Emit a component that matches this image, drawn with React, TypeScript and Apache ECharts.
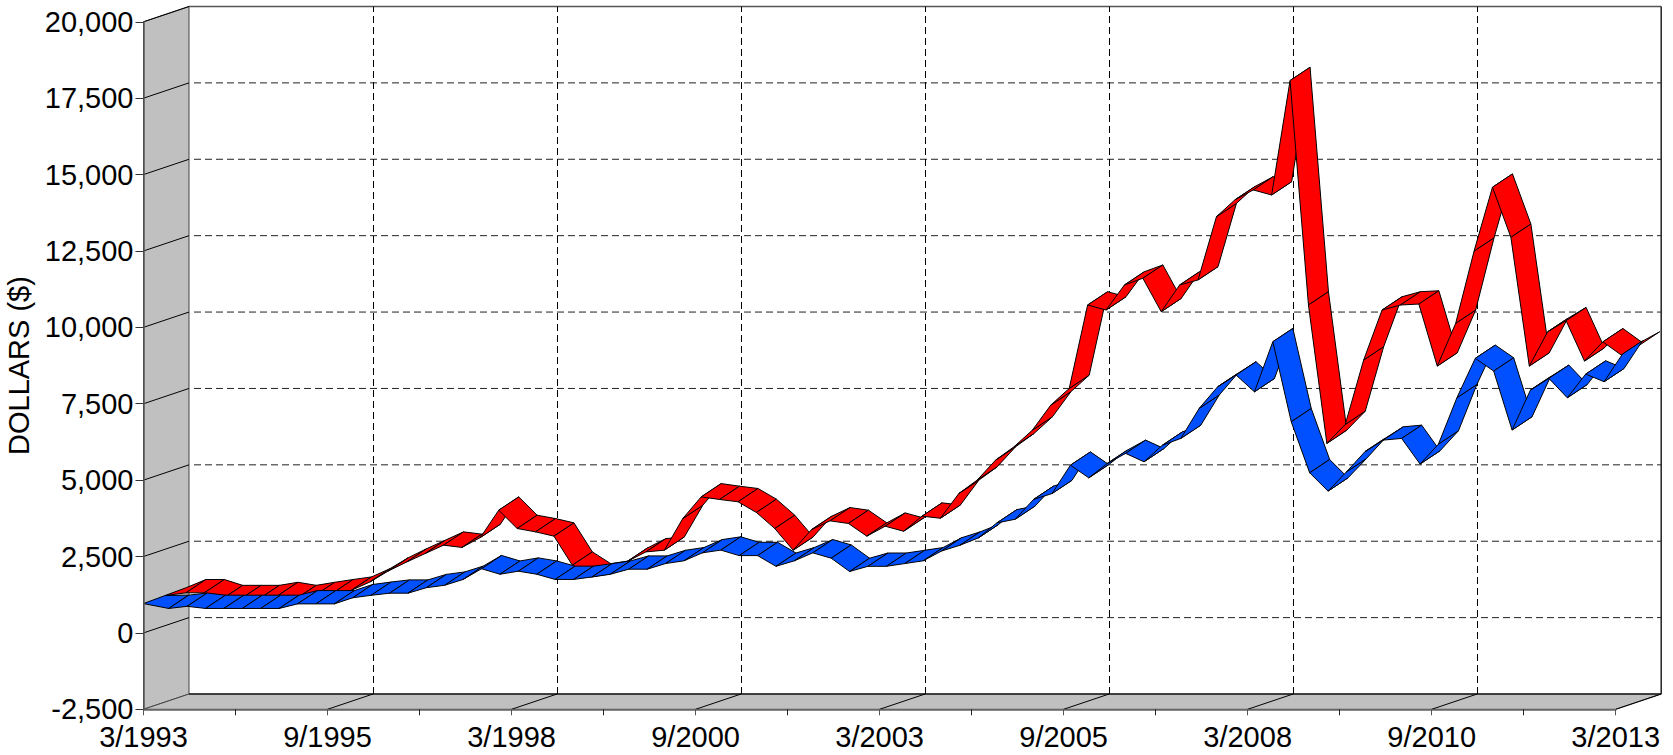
import React, { useEffect, useRef } from "react";
import * as echarts from "echarts";

const quarterLabels = ["3/1993", "9/1995", "3/1998", "9/2000", "3/2003", "9/2005", "3/2008", "9/2010", "3/2013"];
const yTicks = [-2500, 0, 2500, 5000, 7500, 10000, 12500, 15000, 17500, 20000];

const blueValues = [
  960, 800, 870, 800, 800, 800, 800, 800, 950, 950,
  950, 1150, 1230, 1300, 1300, 1480, 1560, 1750, 2100, 1920,
  2020, 1920, 1750, 1750, 1830, 1920, 2085, 2085, 2270, 2360,
  2620, 2710, 2530, 2530, 2180, 2360, 2620, 2445, 2010, 2180,
  2180, 2270, 2360, 2680, 2870, 3110, 3600, 3720, 4370, 4560,
  5490, 5075, 5545, 5875, 5600, 6145, 6365, 7350, 8055, 8440,
  7890, 9530, 6910, 5240, 4640, 5270, 5930, 6310, 6365, 5525,
  6180, 7695, 8985, 8570, 6640, 7950, 8330, 7695, 8470, 8220,
  9125,
];
const redValues = [
  960, 1050, 1050, 860, 860, 860, 960, 860, 960, 1050,
  1135, 1405, 1765, 2060, 2335, 2610, 2535, 2860, 3755, 3155,
  3045, 2905, 1955, 1570, 1660, 2085, 2390, 2445, 3480, 4190,
  4105, 4030, 3680, 3155, 2445, 3120, 3405, 3320, 2905, 3230,
  3065, 3560, 3490, 4300, 4740, 5395, 5830, 6375, 7195, 7740,
  10470, 10305, 11125, 11345, 10250, 11125, 11290, 13360, 13910, 14235,
  14070, 17815, 10470, 5940, 6560, 8670, 10305, 10470, 10500, 8470,
  9870, 12235, 14325, 12685, 8470, 9595, 9955, 8635, 9265, 8830,
  9160,
];

const FONT = "Liberation Sans";
const WALL = [45.5, -15.3];
const EDGE = "#444";

type Layer = { color: string; front: number[]; startFront: number[]; startBack: number[] };
const blueLayer: Layer = { color: "#0050ff", front: [6.8, 0], startFront: [0, 0], startBack: [21.5, -8] };
const redLayer: Layer = { color: "#ff0000", front: [24, -8], startFront: [21.5, -8], startBack: [43, -16] };
const SLANT = [20, -13.3];

const segments = (vals: number[]) => vals.slice(0, -1).map((v, i) => [i, v, vals[i + 1]]);

function ribbon(layer: Layer) {
  return (_params: any, api: any) => {
    const i = api.value(0);
    const edge = (idx: number, v: number) => {
      const p = api.coord([idx, v]);
      if (idx === 0) {
        return [
          [p[0] + layer.startFront[0], p[1] + layer.startFront[1]],
          [p[0] + layer.startBack[0], p[1] + layer.startBack[1]],
        ];
      }
      const f = [p[0] + layer.front[0], p[1] + layer.front[1]];
      return [f, [f[0] + SLANT[0], f[1] + SLANT[1]]];
    };
    const a = edge(i, api.value(1));
    const b = edge(i + 1, api.value(2));
    return {
      type: "polygon",
      shape: { points: [a[0], b[0], b[1], a[1]] },
      style: { fill: layer.color, stroke: "#000", lineWidth: 1, lineJoin: "round" },
    };
  };
}

function frame(_params: any, api: any) {
  const at = (x: number, y: number) => api.coord([x, y]);
  const back = (p: number[]) => [p[0] + WALL[0], p[1] + WALL[1]];
  const snap = (n: number) => Math.floor(n) + 0.5;
  const bl = at(0, -2500);
  const tl = at(0, 20000);
  const br = at(80, -2500);
  const line = (a: number[], b: number[], stroke: string, lineWidth = 1, dash?: number[]) => ({
    type: "line",
    shape: { x1: a[0], y1: a[1], x2: b[0], y2: b[1] },
    style: { stroke, lineWidth, lineDash: dash, fill: "none" },
  });
  const children: any[] = [
    {
      type: "polygon",
      shape: { points: [bl, tl, back(tl), back(bl)] },
      style: { fill: "#c0c0c0", stroke: EDGE, lineWidth: 1 },
    },
    {
      type: "polygon",
      shape: { points: [bl, back(bl), back(br), br] },
      style: { fill: "#c0c0c0", stroke: EDGE, lineWidth: 1 },
    },
    line(back(tl), [back(br)[0], back(tl)[1]], "#555", 1.5),
    line([back(br)[0], back(tl)[1]], back(br), "#222", 1.5),
    line(back(bl), back(br), "#222", 1.5),
  ];
  yTicks.forEach((v) => {
    const p = at(0, v);
    if (v > -2500 && v < 20000) {
      const q = back(p);
      children.push(line([q[0] + 5, q[1]], [back(br)[0], q[1]], "#222", 1, [7, 4]));
      children.push(line(p, q, "#000", 1));
    } else if (v === 20000) {
      children.push(line(p, back(p), "#000", 1));
    }
  });
  quarterLabels.forEach((_label, k) => {
    const p = at(k * 10, -2500);
    const q = back(p);
    if (k > 0 && k < quarterLabels.length - 1) {
      const x = snap(q[0]);
      children.push(line([x, q[1]], [x, back(tl)[1]], "#000", 1, [7, 4]));
    }
    if (k > 0) children.push(line(p, q, "#000", 1));
  });
  return { type: "group", children };
}

export default function App() {
  const ref = useRef<HTMLDivElement>(null);
  useEffect(() => {
    document.body.style.margin = "0";
    const chart = echarts.init(ref.current!, undefined, { renderer: "svg" });
    chart.setOption({
      animation: false,
      backgroundColor: "#fff",
      textStyle: { fontFamily: FONT },
      grid: { left: 143.5, top: 21.8, width: 1472.2, height: 687.5, containLabel: false, outerBoundsMode: "none" },
      xAxis: {
        type: "value",
        min: 0,
        max: 80,
        interval: 10,
        z: 5,
        splitLine: { show: false },
        axisLine: { show: true, onZero: false, lineStyle: { color: "#666", width: 1.5 } },
        axisTick: { show: true, length: 6, lineStyle: { color: "#555", width: 1 } },
        minorTick: { show: true, splitNumber: 2, length: 6, lineStyle: { color: "#222", width: 1 } },
        axisLabel: {
          margin: 13,
          color: "#000",
          fontFamily: FONT,
          fontSize: 29,
          showMinLabel: true,
          showMaxLabel: true,
          hideOverlap: false,
          formatter: (v: number) => quarterLabels[Math.round(v / 10)],
        },
      },
      yAxis: {
        type: "value",
        min: -2500,
        max: 20000,
        interval: 2500,
        z: 5,
        name: "DOLLARS ($)",
        nameLocation: "middle",
        nameRotate: 90,
        nameGap: 100,
        nameTextStyle: { color: "#000", fontFamily: FONT, fontSize: 29 },
        splitLine: { show: false },
        axisLine: { show: true, onZero: false, lineStyle: { color: "#555", width: 1.5 } },
        axisTick: { show: true, length: 8, lineStyle: { color: "#333", width: 1 } },
        axisLabel: {
          margin: 10,
          color: "#000",
          fontFamily: FONT,
          fontSize: 29,
          showMinLabel: true,
          showMaxLabel: true,
          formatter: (v: number) => v.toLocaleString("en-US"),
        },
      },
      series: [
        { type: "custom", name: "frame", z: 1, silent: true, clip: false, renderItem: frame, data: [[0, 0]] },
        {
          type: "custom",
          name: "Red",
          z: 2,
          silent: true,
          clip: false,
          renderItem: ribbon(redLayer),
          data: segments(redValues),
        },
        {
          type: "custom",
          name: "Blue",
          z: 3,
          silent: true,
          clip: false,
          renderItem: ribbon(blueLayer),
          data: segments(blueValues),
        },
      ],
    });
    return () => chart.dispose();
  }, []);
  return <div ref={ref} style={{ width: 1673, height: 755 }} />;
}
